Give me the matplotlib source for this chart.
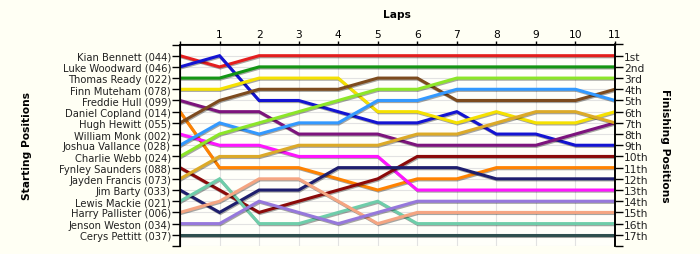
import matplotlib
matplotlib.use('Agg')
import matplotlib.pyplot as plt
import matplotlib.patheffects as pe

laps = list(range(12))

drivers = ['Kian Bennett (044)', 'Luke Woodward (046)', 'Thomas Ready (022)',
           'Finn Muteham (078)', 'Freddie Hull (099)', 'Daniel Copland (014)',
           'Hugh Hewitt (055)', 'William Monk (002)', 'Joshua Vallance (028)',
           'Charlie Webb (024)', 'Fynley Saunders (088)', 'Jayden Francis (073)',
           'Jim Barty (033)', 'Lewis Mackie (021)', 'Harry Pallister (006)',
           'Jenson Weston (034)', 'Cerys Pettitt (037)']

finish_labels = ['1st', '2nd', '3rd', '4th', '5th', '6th', '7th', '8th', '9th',
                 '10th', '11th', '12th', '13th', '14th', '15th', '16th', '17th']

# position of each driver after every lap (lap 0 = grid)
bennett = [1, 2, 1, 1, 1, 1, 1, 1, 1, 1, 1, 1]
woodward = [2, 1, 5, 5, 6, 7, 7, 6, 8, 8, 9, 9]
ready = [3, 3, 2, 2, 2, 2, 2, 2, 2, 2, 2, 2]
muteham = [4, 4, 3, 3, 3, 6, 6, 7, 6, 7, 7, 6]
hull = [5, 6, 6, 8, 8, 8, 9, 9, 9, 9, 8, 7]
copland = [6, 11, 11, 11, 12, 13, 12, 12, 11, 11, 11, 11]
hewitt = [7, 5, 4, 4, 4, 3, 3, 5, 5, 5, 5, 4]
monk = [8, 9, 9, 10, 10, 10, 13, 13, 13, 13, 13, 13]
vallance = [9, 7, 8, 7, 7, 5, 5, 4, 4, 4, 4, 5]
webb = [10, 8, 7, 6, 5, 4, 4, 3, 3, 3, 3, 3]
saunders = [11, 13, 15, 14, 13, 12, 10, 10, 10, 10, 10, 10]
francis = [12, 10, 10, 9, 9, 9, 8, 8, 7, 6, 6, 7]
barty = [13, 15, 13, 13, 11, 11, 11, 11, 12, 12, 12, 12]
mackie = [14, 12, 16, 16, 15, 14, 16, 16, 16, 16, 16, 16]
pallister = [15, 14, 12, 12, 14, 16, 15, 15, 15, 15, 15, 15]
weston = [16, 16, 14, 15, 16, 15, 14, 14, 14, 14, 14, 14]
pettitt = [17] * 12

series = [bennett, woodward, ready, muteham, hull, copland, hewitt, monk,
          vallance, webb, saunders, francis, barty, mackie, pallister,
          weston, pettitt]

colors = ['#e41e1e', '#1414d2', '#149614', '#f5e100', '#7d147d', '#ff8200',
          '#7d4b1e', '#ff14ff', '#3399ff', '#8ce628', '#8b0a0a', '#dcaa28',
          '#1e1e6e', '#6ecdaa', '#f5a582', '#9678dc', '#2f4f4f']

bg = '#fffff4'
fs = 7.2
fig = plt.figure(figsize=(7, 2.55), dpi=100, facecolor=bg)
ax = fig.add_axes([180 / 700, 1 - 247 / 255, 435 / 700, 201.5 / 255])
ax.set_facecolor('#fffffa')

for s, c in zip(series, colors):
    ax.plot(laps, s, color=c, lw=2.2, solid_joinstyle='miter',
            path_effects=[pe.SimpleLineShadow(offset=(0.6, -0.8), alpha=0.35),
                          pe.Normal()])

ax.set_xlim(0, 11)
ax.set_ylim(18, 0)

ax.set_xticks(range(12))
ax.set_xticklabels([''] + [str(i) for i in range(1, 12)], fontsize=fs + 0.5)
ax.xaxis.tick_top()
ax.tick_params(axis='x', length=3, width=1, color='black', pad=1)
ax.set_yticks(range(19))
ax.set_yticklabels([''] + drivers + [''], fontsize=fs, color='#222222')
ax.tick_params(axis='y', length=5.5, width=1, color='black', pad=1)
ax.grid(True, color='#e2e2e2', lw=0.8)
ax.set_axisbelow(True)
for side in ['left', 'right', 'top']:
    ax.spines[side].set_linewidth(1.2)
ax.spines['bottom'].set_visible(False)

ax2 = ax.twinx()
ax2.set_ylim(18, 0)
ax2.set_yticks(range(19))
ax2.set_yticklabels([''] + finish_labels + [''], fontsize=fs + 0.5, color='#222222')
ax2.tick_params(axis='y', length=5.5, width=1, color='black', pad=1)
ax2.spines['bottom'].set_visible(False)
ax2.spines['right'].set_linewidth(1.2)

fig.text(397 / 700, 1 - 15 / 255, 'Laps', ha='center', va='center',
         fontsize=fs + 0.5, fontweight='bold')
fig.text(27 / 700, 1 - 146 / 255, 'Starting Positions', ha='center', va='center',
         rotation=90, fontsize=fs + 0.5, fontweight='bold')
fig.text(665 / 700, 1 - 146 / 255, 'Finishing Positions', ha='center',
         va='center', rotation=270, fontsize=fs + 0.5, fontweight='bold')

fig.savefig('out.png', dpi=100, facecolor=bg)
